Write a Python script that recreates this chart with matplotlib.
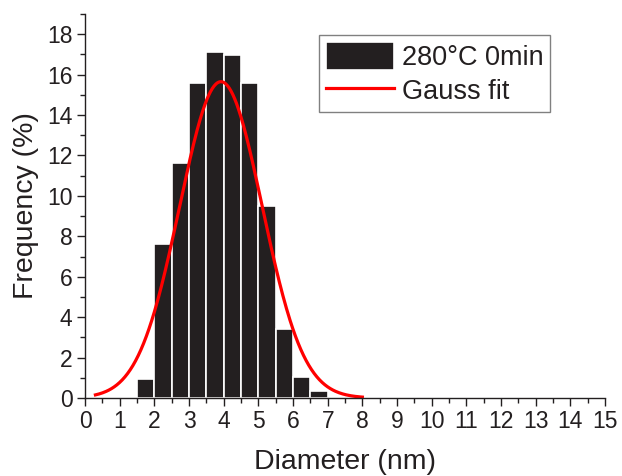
import numpy as np
import matplotlib
matplotlib.use("Agg")
import matplotlib.pyplot as plt
from matplotlib.ticker import MultipleLocator

plt.rcParams["font.family"] = ["Liberation Sans", "DejaVu Sans"]

# histogram bins (nm) and frequencies (%)
centers = [1.75, 2.25, 2.75, 3.25, 3.75, 4.25, 4.75, 5.25, 5.75, 6.25, 6.75]
freq = [0.94, 7.62, 11.63, 15.57, 17.1, 16.97, 15.57, 9.49, 3.40, 1.05, 0.34]

# Gauss fit parameters
fit_xc = 3.92
fit_sigma = 1.19
fit_amp = 15.65
fit_range = (0.3, 8.0)

ink = "#231f20"

fig = plt.figure(figsize=(6.22, 4.76), dpi=100)
ax = fig.add_axes([0.1367, 0.1639, 0.8360, 0.8067])

bars = ax.bar(centers, freq, width=0.5, color=ink, edgecolor="white",
              linewidth=1.2, label="280°C 0min")
xf = np.linspace(*fit_range, 300)
yf = fit_amp * np.exp(-0.5 * ((xf - fit_xc) / fit_sigma) ** 2)
line, = ax.plot(xf, yf, color="#ff0000", lw=2.3, label="Gauss fit")

ax.set_xlim(0, 15)
ax.set_ylim(0, 19)
ax.xaxis.set_major_locator(MultipleLocator(1))
ax.xaxis.set_minor_locator(MultipleLocator(0.5))
ax.set_yticks(range(0, 19, 2))
ax.yaxis.set_minor_locator(MultipleLocator(1))
for s in ("top", "right"):
    ax.spines[s].set_visible(False)
for s in ("left", "bottom"):
    ax.spines[s].set_color(ink)
    ax.spines[s].set_linewidth(1.0)
ax.tick_params(which="major", direction="out", length=6, width=1, colors=ink,
               labelsize=16.5, labelcolor=ink, pad=3)
ax.tick_params(which="minor", direction="out", length=3.5, width=1, colors=ink)
ax.set_xlabel("Diameter (nm)", fontsize=20.5, color=ink, labelpad=11)
ax.set_ylabel("Frequency (%)", fontsize=20.5, color=ink, labelpad=6)

leg = ax.legend([bars, line], ["280°C 0min", "Gauss fit"], loc="upper left",
                bbox_to_anchor=(0.45, 0.945), fontsize=19.5,
                fancybox=False, edgecolor="#808080", handlelength=2.5,
                handleheight=1.2, handletextpad=0.3, borderpad=0.25,
                borderaxespad=0, labelspacing=0.2, framealpha=1)
leg.get_frame().set_linewidth(1.0)
for t in leg.get_texts():
    t.set_color(ink)

fig.savefig("out.png", dpi=100)
